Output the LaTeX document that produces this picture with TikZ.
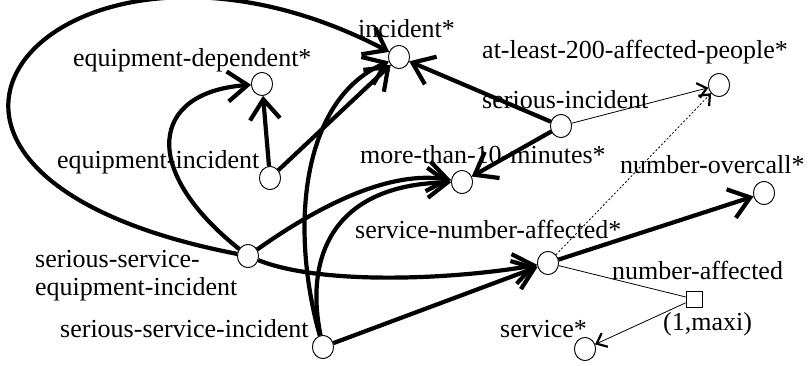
\documentclass[tikz,border=0pt]{standalone}
\usepackage{fontspec}
\setmainfont{Liberation Serif}
\usetikzlibrary{arrows.meta,shapes.geometric}
\begin{document}
\begin{tikzpicture}[x=1pt,y=-1pt,
  dot/.style={draw,ellipse,fill=white,minimum width=21pt,minimum height=23pt,inner sep=0pt,line width=0.8pt},
  sq/.style={draw,rectangle,fill=white,minimum size=16pt,inner sep=0pt,line width=0.8pt},
  lbl/.style={anchor=base west,inner sep=0pt,font=\fontsize{26}{30}\selectfont},
  big/.style={line width=4.2pt,-{Straight Barb[length=20pt,width=30pt,line width=4.2pt]}},
  small/.style={line width=0.8pt,-{Straight Barb[length=9pt,width=15pt,line width=2.2pt]}},
  plain/.style={line width=0.8pt},
  dots/.style={line width=0.8pt,dash pattern=on 2pt off 2pt,-{Straight Barb[length=9pt,width=15pt,line width=2.2pt]}}]
\useasboundingbox (0,0) rectangle (811,365);
% nodes
\node[dot] (inc) at (399,57) {};
\node[dot] (ed) at (262,84) {};
\node[dot] (at) at (719,85) {};
\node[dot] (si) at (561,126) {};
\node[dot] (ei) at (270,178) {};
\node[dot] (more) at (462,182) {};
\node[dot] (ovc) at (764,193) {};
\node[dot] (ssei) at (248,256) {};
\node[dot] (sna) at (548,263) {};
\node[sq] (na) at (694,299) {};
\node[dot] (ssi) at (323,347) {};
\node[dot] (svc) at (585,349) {};
% labels
\node[lbl] (l1) at (358,37) {incident*};
\node[lbl] (l2) at (73,66) {equipment-dependent*};
\node[lbl] (l3) at (482,58) {at-least-200-affected-people*};
\node[lbl] (l4) at (482,108) {serious-incident};
\node[lbl] (l5) at (57,168) {equipment-incident};
\node[lbl] (l6) at (360,163) {more-than-10-minutes*};
\node[lbl] (l7) at (620,173) {number-overcall*};
\node[lbl] (l8) at (355,238) {service-number-affected*};
\node[lbl] (l9) at (35,267) {serious-service-};
\node[lbl] (l10) at (35,295) {equipment-incident};
\node[lbl] (l11) at (612,279) {number-affected};
\node[lbl] (l12) at (663,330) {(1,maxi)};
\node[lbl] (l13) at (60,337) {serious-service-incident};
\node[lbl] (l14) at (500,337) {service*};
% edges
\draw[big] (ei) -- (ed);
\draw[big] (ei) -- (inc);
\draw[big] (si) -- (inc);
\draw[big] (si) -- (more);
\draw[small] (si) -- (at);
\draw[dots] (sna) -- (at);
\draw[big] (sna) -- (ovc);
\draw[plain] (sna) -- (na);
\draw[small] (na) -- (svc);
\draw[big] (ssi) -- (sna);
\draw[big] (ssei) .. controls (-195,170) and (60,-120) .. (inc);
\draw[big] (ssei) .. controls (140,170) and (150,92) .. (ed);
\draw[big] (ssei) .. controls (320,205) and (390,170) .. (more);
\draw[big] (ssei) .. controls (320,285) and (450,280) .. (sna);
\draw[big] (ssi) .. controls (290,230) and (300,100) .. (inc);
\draw[big] (ssi) .. controls (305,260) and (330,185) .. (more);
% redraw circles on top
\foreach \p in {(399,57),(262,84),(719,85),(561,126),(270,178),(462,182),(764,193),(248,256),(548,263),(323,347),(585,349)}
  \node[dot] at \p {};
\node[sq] at (694,299) {};
\end{tikzpicture}
\end{document}
